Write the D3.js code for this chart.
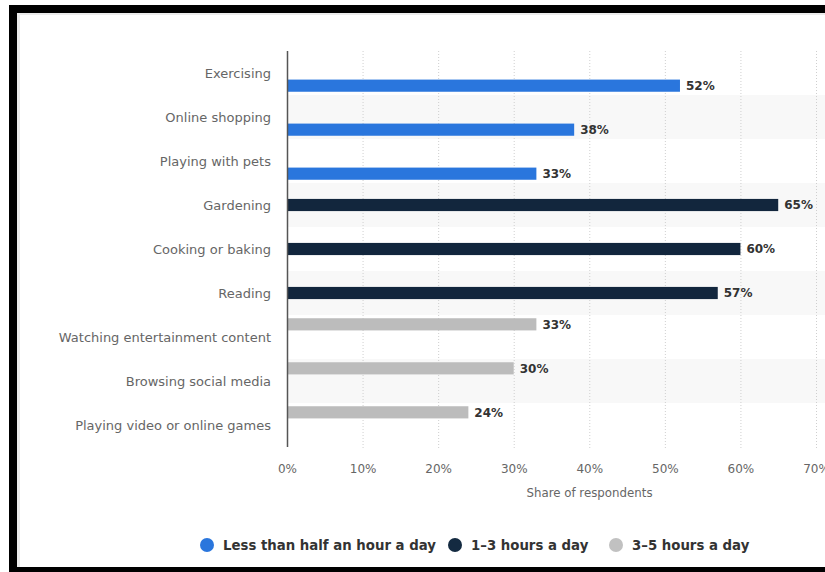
<!DOCTYPE html>
<html>
<head>
<meta charset="utf-8">
<script src="https://cdn.jsdelivr.net/npm/d3@7"></script>
<style>
  html, body { margin: 0; padding: 0; background: #ffffff; }
  svg { display: block; font-family: "DejaVu Sans", Verdana, sans-serif; }
</style>
</head>
<body>
<svg id="chart" width="825" height="572"></svg>
<script>
const categories = [
  "Exercising", "Online shopping", "Playing with pets", "Gardening",
  "Cooking or baking", "Reading", "Watching entertainment content",
  "Browsing social media", "Playing video or online games"
];
const seriesNames = ["Less than half an hour a day", "1-3 hours a day", "3-5 hours a day"];
const lessThanHalfHour = [52, 38, 33, null, null, null, null, null, null];
const oneToThreeHours  = [null, null, null, 65, 60, 57, null, null, null];
const threeToFiveHours = [null, null, null, null, null, null, 33, 30, 24];
const xTicks = [0, 10, 20, 30, 40, 50, 60, 70];
const seriesColors = ["#2a76dd", "#12263d", "#bcbcbc"];
const legendColors = ["#2a76dd", "#142a41", "#c1c1c1"];

(function () {
const seriesValues = [lessThanHalfHour, oneToThreeHours, threeToFiveHours];

const svg = d3.select("#chart");
const W = 825, H = 572;

// frame
svg.append("rect").attr("x", 0).attr("y", 0).attr("width", W).attr("height", H).attr("fill", "#ffffff");
svg.append("rect").attr("x", 17).attr("y", 13).attr("width", W - 17).attr("height", 554).attr("fill", "#ebebeb");
svg.append("rect").attr("x", 20).attr("y", 15).attr("width", W - 20).attr("height", 552).attr("fill", "#ffffff");
svg.append("rect").attr("x", 9).attr("y", 5).attr("width", W - 9).attr("height", 8).attr("fill", "#000");
svg.append("rect").attr("x", 9).attr("y", 5).attr("width", 8).attr("height", H - 5).attr("fill", "#000");
svg.append("rect").attr("x", 9).attr("y", 567).attr("width", W - 9).attr("height", 5).attr("fill", "#000");

const plotLeft = 287, plotTop = 51, plotH = 396;
const x = d3.scaleLinear().domain([0, 70]).range([plotLeft, 816]);
const y = d3.scaleBand().domain(categories).range([plotTop, plotTop + plotH]);
const inner = d3.scaleBand().domain([2, 1, 0])
  .range([y.bandwidth() / 2 - 18.75, y.bandwidth() / 2 + 18.75]).paddingInner(0.04);

// alternate bands
svg.append("g").selectAll("rect")
  .data(categories.filter((d, i) => i % 2 === 1))
  .join("rect")
  .attr("x", plotLeft).attr("y", d => y(d))
  .attr("width", W - plotLeft).attr("height", y.bandwidth())
  .attr("fill", "#f8f8f8");

// gridlines
svg.append("g").selectAll("line")
  .data(xTicks.filter(t => t > 0))
  .join("line")
  .attr("x1", d => x(d) + 0.5).attr("x2", d => x(d) + 0.5)
  .attr("y1", plotTop).attr("y2", plotTop + plotH + 1)
  .attr("stroke", "#cfcfcf").attr("stroke-width", 1)
  .attr("stroke-dasharray", "1,2");

// bars
const barData = [];
seriesValues.forEach((vals, s) => vals.forEach((v, i) => {
  if (v !== null) barData.push({ s, cat: categories[i], v });
}));

svg.append("g").selectAll("rect")
  .data(barData)
  .join("rect")
  .attr("x", plotLeft)
  .attr("y", d => y(d.cat) + inner(d.s))
  .attr("width", d => x(d.v) - plotLeft)
  .attr("height", inner.bandwidth())
  .attr("fill", d => seriesColors[d.s]);

// value labels
svg.append("g").selectAll("text")
  .data(barData)
  .join("text")
  .attr("x", d => x(d.v) + 6)
  .attr("y", d => y(d.cat) + inner(d.s) + inner.bandwidth() / 2)
  .attr("dy", "0.36em")
  .attr("font-size", 12).attr("font-weight", "bold").attr("fill", "#333333")
  .text(d => d.v + "%");

// y axis
const yAxis = d3.axisLeft(y).tickSize(0).tickPadding(16);
const gy = svg.append("g").attr("transform", `translate(${plotLeft},1)`).call(yAxis);
gy.select(".domain").remove();
gy.selectAll("text").attr("font-size", 13).attr("fill", "#666666")
  .attr("font-family", "DejaVu Sans, Verdana, sans-serif");
svg.append("line").attr("x1", plotLeft + 0.5).attr("x2", plotLeft + 0.5)
  .attr("y1", plotTop).attr("y2", plotTop + plotH)
  .attr("stroke", "#555555").attr("stroke-width", 1.5);

// x axis
const xAxis = d3.axisBottom(x).tickValues(xTicks).tickFormat(d => d + "%").tickSize(0).tickPadding(17);
const gx = svg.append("g").attr("transform", `translate(0,${plotTop + plotH})`).call(xAxis);
gx.select(".domain").remove();
gx.selectAll("text").attr("font-size", 12).attr("fill", "#666666")
  .attr("font-family", "DejaVu Sans, Verdana, sans-serif");

svg.append("text")
  .attr("x", 589.5).attr("y", 497)
  .attr("text-anchor", "middle")
  .attr("font-size", 11.8).attr("fill", "#666666")
  .text("Share of respondents");

// legend
const legendX = [207, 455, 616];
const lg = svg.append("g").selectAll("g")
  .data(seriesNames)
  .join("g")
  .attr("transform", (d, i) => `translate(${legendX[i]},545)`);
lg.append("circle").attr("r", 7).attr("fill", (d, i) => legendColors[i]);
lg.append("text").attr("x", 16).attr("dy", "0.36em")
  .attr("font-size", 13.3).attr("font-weight", "bold").attr("fill", "#333333")
  .text(d => d.replace("-", "–"));
})();
</script>
</body>
</html>
